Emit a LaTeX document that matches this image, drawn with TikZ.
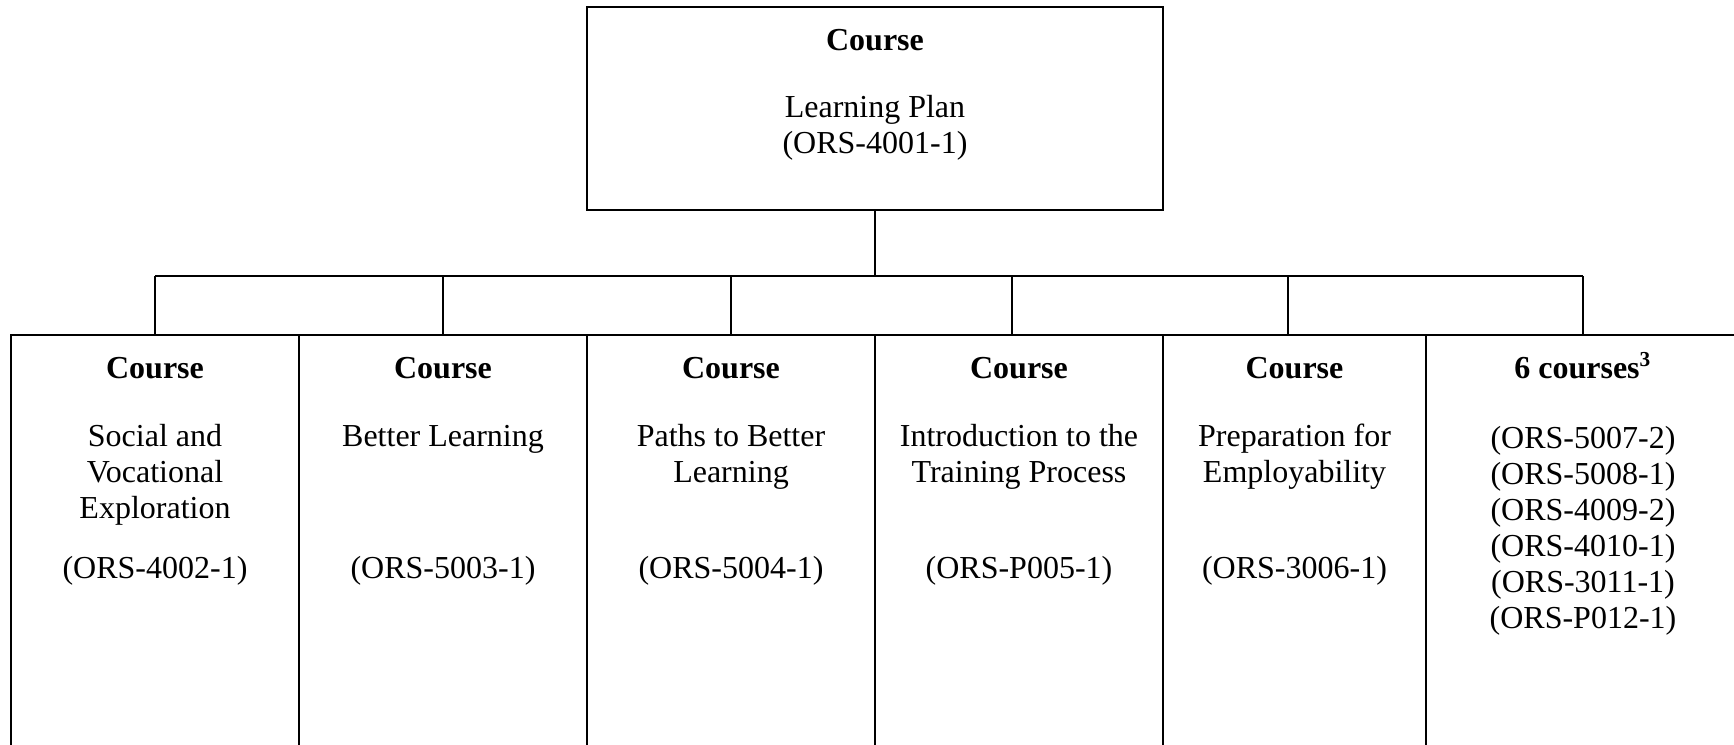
\documentclass[tikz,border=0pt]{standalone}
\usepackage{fontspec}
\setmainfont{Liberation Serif}
\begin{document}
\begin{tikzpicture}[x=0.375pt,y=-0.375pt,line width=0.6pt,
    every node/.style={font=\fontsize{12}{13.5}\selectfont,inner sep=0pt},
    head/.style={anchor=base,font=\fontsize{12}{13.5}\selectfont\bfseries},
    title/.style={anchor=north,align=center},
    code/.style={anchor=base}]
  \clip (0,0) rectangle (1734,745);
  % learning plan on top
  \node[draw,minimum width=216pt,minimum height=76.125pt] (plan) at (875,108.5) {};
  \node[head] (planhead) at (875,51) {Course};
  \node[title] (plantitle) at (875,91.8) {\strut Learning Plan\\(ORS-4001-1)};
  % row of courses
  \foreach \i/\x/\w in {1/155/288,2/443/288,3/731/288,4/1019/288,5/1294.5/263,6/1583/314}
    \node[draw,minimum width=\w*0.375pt,minimum height=174.375pt] (c\i) at (\x,567.5) {};
  \foreach \i/\x in {1/155,2/443,3/731,4/1019,5/1294.5}
    \node[head] (h\i) at (\x,378) {Course};
  \node[head] (h6) at (1583,378) {6 courses\textsuperscript{3}};
  \node[title] (t1) at (155,420.8) {\strut Social and\\Vocational\\Exploration};
  \node[title] (t2) at (443,420.8) {\strut Better Learning};
  \node[title] (t3) at (731,420.8) {\strut Paths to Better\\Learning};
  \node[title] (t4) at (1019,420.8) {\strut Introduction to the\\Training Process};
  \node[title] (t5) at (1294.5,420.8) {\strut Preparation for\\Employability};
  \node[title] (t6) at (1583,422.8) {\strut (ORS-5007-2)\\(ORS-5008-1)\\(ORS-4009-2)\\(ORS-4010-1)\\(ORS-3011-1)\\(ORS-P012-1)};
  \foreach \i/\x/\n in {1/155/4002,2/443/5003,3/731/5004,4/1019/P005,5/1294.5/3006}
    \node[code] (k\i) at (\x,578) {(ORS-\n-1)};
  % connectors
  \foreach \i/\x in {1/155,2/443,3/731,4/1012,5/1288,6/1583}
  {
    \coordinate (b\i) at (\x,276);
    \draw (b\i) -- (b\i |- c\i.north);
  }
  \draw (b1) -- (b6);
  \draw (plan.south) -- (plan.south |- b1);
\end{tikzpicture}
\end{document}
